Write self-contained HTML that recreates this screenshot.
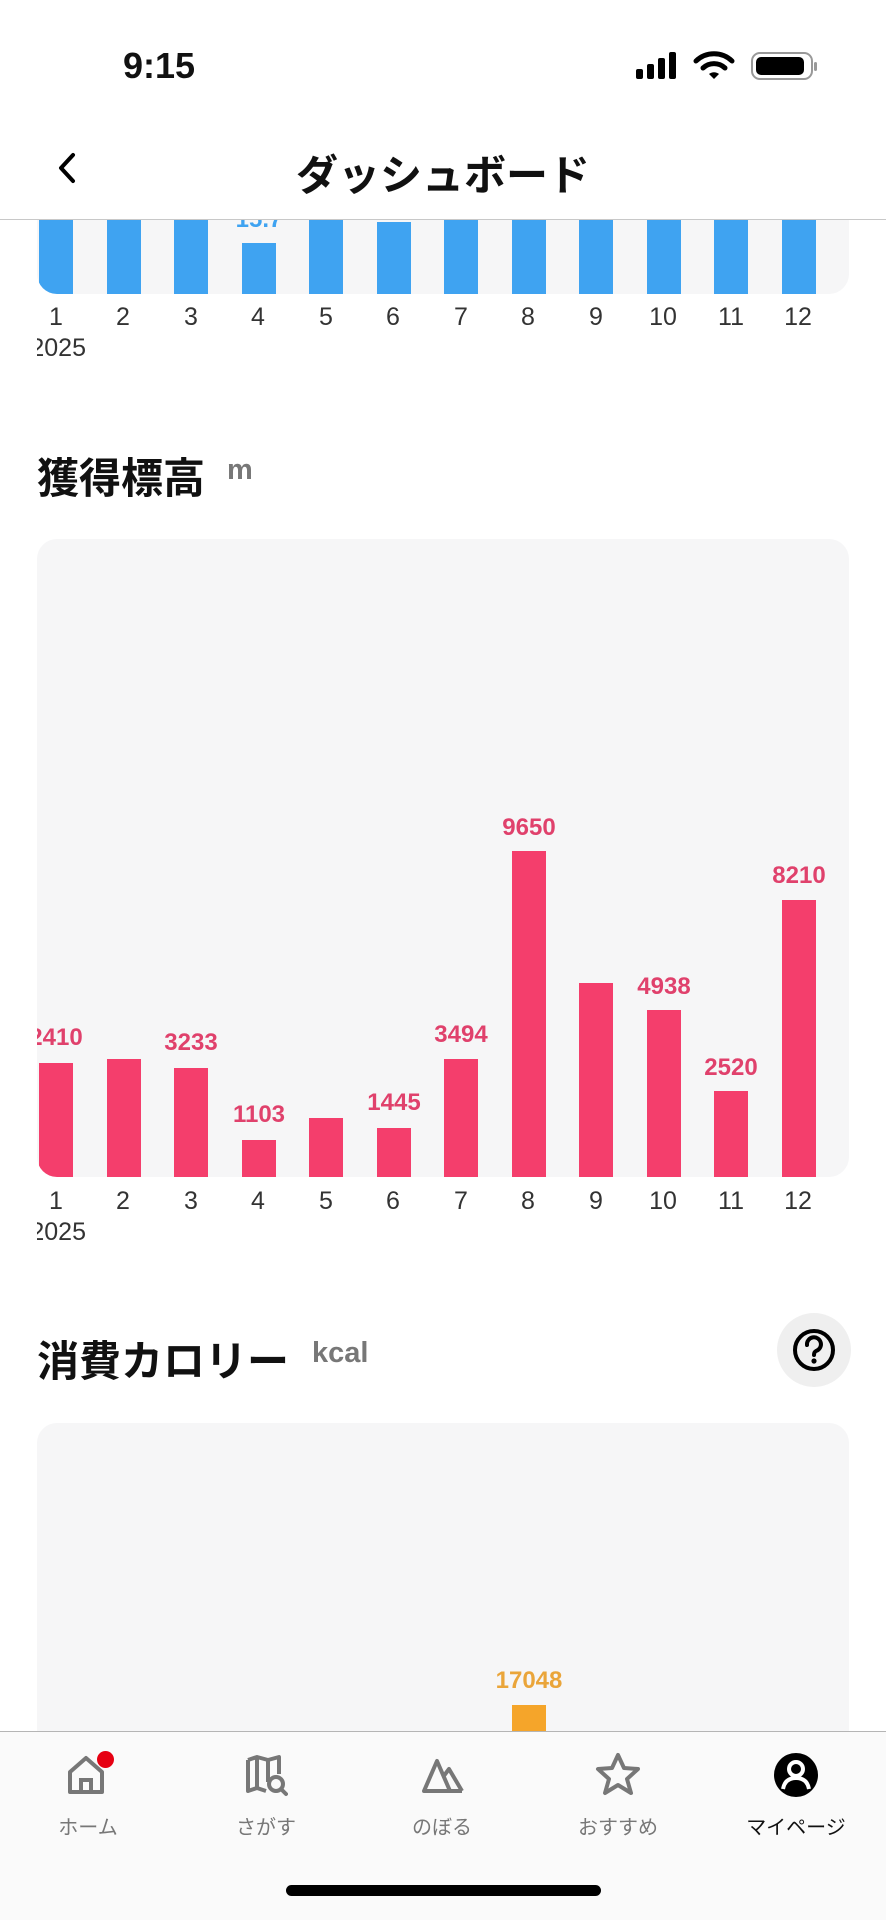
<!DOCTYPE html>
<html><head><meta charset="utf-8">
<style>
*{margin:0;padding:0;box-sizing:border-box}
body{width:886px;height:1920px;background:#fff;position:relative;overflow:hidden;font-family:"Liberation Sans","Noto Sans CJK JP",sans-serif;color:#111}
.a{position:absolute}
.card{position:absolute;left:37px;width:812px;background:#f6f6f7;border-radius:20px;overflow:hidden}
.bar{position:absolute;width:34px}
.lbl{position:absolute;width:80px;text-align:center;font-size:24px;font-weight:bold;line-height:1}
.xl{position:absolute;width:60px;text-align:center;font-size:25px;color:#333;line-height:1}
.tab{position:absolute;width:160px;text-align:center;font-size:20px;color:#777;top:1811px}
</style></head><body>

<!-- top chart (scrolled) -->
<div class="card" style="top:120px;height:174px">
  <div class="bar" style="left:2px;top:0;height:174px;background:#3fa3f1"></div>
  <div class="bar" style="left:70px;top:0;height:174px;background:#3fa3f1"></div>
  <div class="bar" style="left:137px;top:0;height:174px;background:#3fa3f1"></div>
  <div class="bar" style="left:205px;top:123px;height:51px;background:#3fa3f1"></div>
  <div class="lbl" style="left:182px;top:88px;color:#3fa3f1">15.7</div>
  <div class="bar" style="left:272px;top:0;height:174px;background:#3fa3f1"></div>
  <div class="bar" style="left:340px;top:102px;height:72px;background:#3fa3f1"></div>
  <div class="bar" style="left:407px;top:0;height:174px;background:#3fa3f1"></div>
  <div class="bar" style="left:475px;top:0;height:174px;background:#3fa3f1"></div>
  <div class="bar" style="left:542px;top:0;height:174px;background:#3fa3f1"></div>
  <div class="bar" style="left:610px;top:0;height:174px;background:#3fa3f1"></div>
  <div class="bar" style="left:677px;top:0;height:174px;background:#3fa3f1"></div>
  <div class="bar" style="left:745px;top:0;height:174px;background:#3fa3f1"></div>
</div>
<div class="a" style="left:37px;top:305px;width:812px;height:60px;overflow:hidden">
  <div class="xl" style="left:-11px;top:0">1</div><div class="xl" style="left:56px;top:0">2</div><div class="xl" style="left:124px;top:0">3</div><div class="xl" style="left:191px;top:0">4</div><div class="xl" style="left:259px;top:0">5</div><div class="xl" style="left:326px;top:0">6</div><div class="xl" style="left:394px;top:0">7</div><div class="xl" style="left:461px;top:0">8</div><div class="xl" style="left:529px;top:0">9</div><div class="xl" style="left:596px;top:0">10</div><div class="xl" style="left:664px;top:0">11</div><div class="xl" style="left:731px;top:0">12</div>
  <div class="xl" style="left:-11px;top:31px;width:60px;text-align:right">2025</div>
</div>

<!-- header -->
<div class="a" style="left:0;top:0;width:886px;height:220px;background:#fff;border-bottom:1px solid #c8c8c8"></div>
<div class="a" style="left:123px;top:45px;font-size:36px;font-weight:bold">9:15</div>
<svg class="a" style="left:634px;top:50px" width="185" height="32" viewBox="0 0 185 32">
  <rect x="2" y="19" width="7" height="10" rx="2" fill="#000"/><rect x="13" y="14" width="7" height="15" rx="2" fill="#000"/><rect x="24" y="8" width="7" height="21" rx="2" fill="#000"/><rect x="35" y="2" width="7" height="27" rx="2" fill="#000"/>
  <path d="M62 11 A26 26 0 0 1 98 11" stroke="#000" stroke-width="5" fill="none" stroke-linecap="round"/>
  <path d="M69 18 A16 16 0 0 1 91 18" stroke="#000" stroke-width="5" fill="none" stroke-linecap="round"/>
  <path d="M75 24 L80 29 L85 24 A8 8 0 0 0 75 24Z" fill="#000"/>
  <rect x="118" y="3" width="60" height="26" rx="8" fill="none" stroke="#999" stroke-width="2"/>
  <rect x="122" y="7" width="48" height="18" rx="5" fill="#000"/>
  <rect x="180" y="12" width="3" height="9" rx="1.5" fill="#999"/>
</svg>
<svg class="a" style="left:56px;top:152px" width="22" height="32" viewBox="0 0 22 32"><path d="M17 3 L5 16 L17 29" stroke="#000" stroke-width="4" fill="none" stroke-linecap="round" stroke-linejoin="round"/></svg>
<div class="a" style="left:193px;top:142px;width:500px;text-align:center;font-size:42px;font-weight:bold">ダッシュボード</div>

<!-- section 2 -->
<div class="a" style="left:37px;top:445px;font-size:42px;font-weight:bold">獲得標高</div>
<div class="a" style="left:227px;top:454px;font-size:29px;font-weight:bold;color:#777">m</div>
<div class="card" style="top:539px;height:638px">
  <div class="bar" style="left:2px;top:524px;height:114px;background:#f43e6c"></div>
  <div class="bar" style="left:70px;top:520px;height:118px;background:#f43e6c"></div>
  <div class="bar" style="left:137px;top:529px;height:109px;background:#f43e6c"></div>
  <div class="bar" style="left:205px;top:601px;height:37px;background:#f43e6c"></div>
  <div class="bar" style="left:272px;top:579px;height:59px;background:#f43e6c"></div>
  <div class="bar" style="left:340px;top:589px;height:49px;background:#f43e6c"></div>
  <div class="bar" style="left:407px;top:520px;height:118px;background:#f43e6c"></div>
  <div class="bar" style="left:475px;top:312px;height:326px;background:#f43e6c"></div>
  <div class="bar" style="left:542px;top:444px;height:194px;background:#f43e6c"></div>
  <div class="bar" style="left:610px;top:471px;height:167px;background:#f43e6c"></div>
  <div class="bar" style="left:677px;top:552px;height:86px;background:#f43e6c"></div>
  <div class="bar" style="left:745px;top:361px;height:277px;background:#f43e6c"></div>
  <div class="lbl" style="left:-21px;top:487px;color:#e0416c">2410</div>
  <div class="lbl" style="left:114px;top:492px;color:#e0416c">3233</div>
  <div class="lbl" style="left:182px;top:564px;color:#e0416c">1103</div>
  <div class="lbl" style="left:317px;top:552px;color:#e0416c">1445</div>
  <div class="lbl" style="left:384px;top:484px;color:#e0416c">3494</div>
  <div class="lbl" style="left:452px;top:277px;color:#e0416c">9650</div>
  <div class="lbl" style="left:587px;top:436px;color:#e0416c">4938</div>
  <div class="lbl" style="left:654px;top:517px;color:#e0416c">2520</div>
  <div class="lbl" style="left:722px;top:325px;color:#e0416c">8210</div>
</div>
<div class="a" style="left:37px;top:1189px;width:812px;height:60px;overflow:hidden">
  <div class="xl" style="left:-11px;top:0">1</div><div class="xl" style="left:56px;top:0">2</div><div class="xl" style="left:124px;top:0">3</div><div class="xl" style="left:191px;top:0">4</div><div class="xl" style="left:259px;top:0">5</div><div class="xl" style="left:326px;top:0">6</div><div class="xl" style="left:394px;top:0">7</div><div class="xl" style="left:461px;top:0">8</div><div class="xl" style="left:529px;top:0">9</div><div class="xl" style="left:596px;top:0">10</div><div class="xl" style="left:664px;top:0">11</div><div class="xl" style="left:731px;top:0">12</div>
  <div class="xl" style="left:-11px;top:31px;width:60px;text-align:right">2025</div>
</div>

<!-- section 3 -->
<div class="a" style="left:37px;top:1328px;font-size:42px;font-weight:bold">消費カロリー</div>
<div class="a" style="left:312px;top:1337px;font-size:29px;font-weight:bold;color:#777">kcal</div>
<div class="a" style="left:777px;top:1313px;width:74px;height:74px;border-radius:50%;background:#efefef"></div>
<svg class="a" style="left:791px;top:1327px" width="46" height="46" viewBox="0 0 46 46"><circle cx="23" cy="23" r="19" stroke="#000" stroke-width="4" fill="none"/><path d="M16 18 A7 7 0 1 1 25 24 Q23 25 23 28" stroke="#000" stroke-width="4" fill="none" stroke-linecap="round"/><circle cx="23" cy="34" r="2.6" fill="#000"/></svg>
<div class="card" style="top:1423px;height:400px">
  <div class="bar" style="left:475px;top:282px;height:120px;background:#f5a52a"></div>
  <div class="lbl" style="left:447px;top:246px;width:90px;color:#eaa53a">17048</div>
  <div class="lbl" style="left:717px;top:306px;width:90px;color:#eaa53a">14637</div>
</div>

<!-- tab bar -->
<div class="a" style="left:0;top:1731px;width:886px;height:189px;background:#fafafa;border-top:1px solid #b5b5b5"></div>
<svg class="a" style="left:66px;top:1752px" width="44" height="44" viewBox="0 0 44 44"><path d="M4 40 V20 L20 6 L36 20 V40 Z" stroke="#777" stroke-width="4" fill="none" stroke-linejoin="round"/><path d="M15 40 V28 H25 V40" stroke="#777" stroke-width="4" fill="none"/></svg>
<div class="a" style="left:97px;top:1751px;width:17px;height:17px;border-radius:50%;background:#e60012"></div>
<svg class="a" style="left:244px;top:1754px" width="44" height="44" viewBox="0 0 44 44"><path d="M4 6 L13 3 L24 6 L35 3 V20 M24 6 V28 M13 3 V34 M4 6 V37 L13 34 L22 37" stroke="#777" stroke-width="4" fill="none" stroke-linejoin="round"/><circle cx="32" cy="30" r="7" stroke="#777" stroke-width="4" fill="none"/><path d="M37 35 L42 40" stroke="#777" stroke-width="4" stroke-linecap="round"/></svg>
<svg class="a" style="left:420px;top:1755px" width="46" height="40" viewBox="0 0 46 40"><path d="M4 36 L17 6 L30 36 Z M23 22 L29 14 L42 36" stroke="#777" stroke-width="4" fill="none" stroke-linejoin="round"/><path d="M4 36 H42" stroke="#777" stroke-width="4"/></svg>
<svg class="a" style="left:595px;top:1752px" width="46" height="44" viewBox="0 0 46 44"><path d="M23 3 L29 16 L43 17 L32 27 L36 41 L23 33 L10 41 L14 27 L3 17 L17 16 Z" stroke="#777" stroke-width="4" fill="none" stroke-linejoin="round"/></svg>
<svg class="a" style="left:773px;top:1752px" width="46" height="46" viewBox="0 0 46 46"><circle cx="23" cy="23" r="22" fill="#000"/><circle cx="23" cy="17" r="7" stroke="#fff" stroke-width="4" fill="none"/><path d="M10 37 Q12 26 23 26 Q34 26 36 37" stroke="#fff" stroke-width="4" fill="none"/></svg>
<div class="tab" style="left:8px">ホーム</div>
<div class="tab" style="left:186px">さがす</div>
<div class="tab" style="left:362px">のぼる</div>
<div class="tab" style="left:538px">おすすめ</div>
<div class="tab" style="left:716px;color:#111">マイページ</div>
<div class="a" style="left:286px;top:1885px;width:315px;height:11px;border-radius:6px;background:#000"></div>
</body></html>
